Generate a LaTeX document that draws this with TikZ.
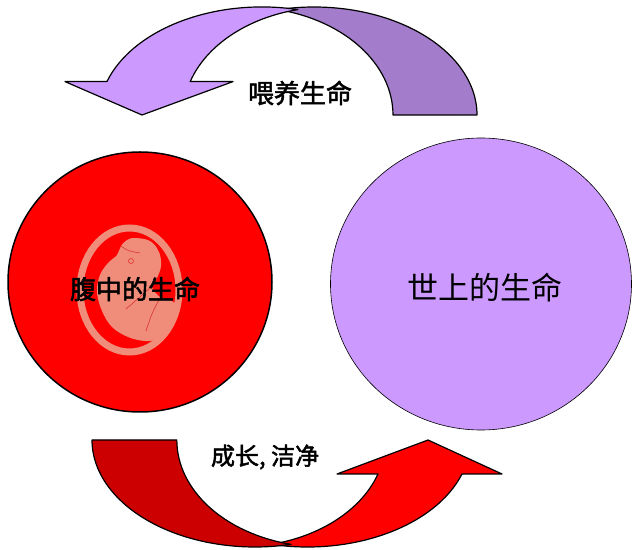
\documentclass[tikz,border=0pt]{standalone}
\usepackage{fontspec}
\newfontfamily\cjk{Noto Sans CJK SC}
\newfontfamily\cjkbold{Noto Sans CJK SC}[FakeBold=2]
\usetikzlibrary{positioning}
\definecolor{lilac}{RGB}{204,153,255}
\definecolor{lilacdark}{RGB}{164,124,204}
\definecolor{redfront}{RGB}{255,0,0}
\definecolor{redback}{RGB}{204,0,0}
\definecolor{salmon}{RGB}{240,140,122}
\tikzset{band/.style={draw=black,line width=1.2pt,line join=round}}

\begin{document}
\begin{tikzpicture}[x=1pt,y=1pt,
    word/.style={font=\cjkbold\fontsize{26}{26}\selectfont,inner sep=0pt}]
    \useasboundingbox (0,0) rectangle (632,549);
    \def\ry{108}
    % top arrow: back part, then front part with head
    \draw[band,fill=lilacdark] (477,434)
        arc[start angle=0,end angle=102.7,x radius=163,y radius=\ry]
        arc[start angle=77.35,end angle=0,x radius=147,y radius=\ry] -- cycle;
    \draw[band,fill=lilac] (297.8,539.4)
        arc[start angle=77.3,end angle=162,x radius=163,y radius=\ry]
        -- (65,467.4) -- (142,434) -- (233,467.4) -- (190.2,467.4)
        arc[start angle=162,end angle=102.65,x radius=147,y radius=\ry] -- cycle;
    % bottom arrow: red part behind, dark part in front
    \def\ry{107}
    \draw[band,fill=redfront] (378,75)
        arc[start angle=-18.53,end angle=-77.2,x radius=146.8,y radius=\ry]
        arc[start angle=-102.8,end angle=-18.53,x radius=163,y radius=\ry]
        -- (502,75) -- (428,109) -- (337,75) -- cycle;
    \draw[band,fill=redback] (92,109)
        arc[start angle=180,end angle=282.8,x radius=163,y radius=\ry]
        arc[start angle=257.2,end angle=180,x radius=146.8,y radius=\ry] -- cycle;
    % the two lives
    \draw[line width=1.5pt,fill=redfront] (140,267) ellipse[x radius=132,y radius=130];
    \draw[line width=0.6pt,fill=lilac] (481,265) ellipse[x radius=150.5,y radius=146];
    % fetus in the womb
    \draw[salmon,line width=7pt] (129.5,259) ellipse[x radius=49.5,y radius=62];
    \fill[salmon] plot[smooth cycle,tension=0.6] coordinates {(135,311) (150,308)
        (159,297) (161,283) (157,271) (152,262) (160,252) (172,248) (179,240)
        (172,229) (167,217) (158,210) (145,208) (128,212) (112,222) (102,238)
        (97,257) (100,274) (108,286) (117,294) (121,303) (127,309)};
    \draw[redback!70!salmon,line width=0.5pt] (131,288) circle[radius=2.5];
    \draw[redback!70!salmon,line width=0.5pt] (152,263) .. controls (140,252) .. (126,240);
    \draw[redback!70!salmon,line width=0.5pt] (160,251) .. controls (152,236) .. (146,218);
    \draw[redback!70!salmon,line width=0.5pt] (121,303) .. controls (128,298) .. (140,296);
    % labels
    \node[word] (feed) at (300,456) {喂养生命};
    \node[word] (womb) at (135,260) {腹中的生命};
    \node[word,font=\cjk\fontsize{31}{31}\selectfont] (world) at (485,261) {世上的生命};
    \node[word,font=\cjkbold\fontsize{24}{24}\selectfont] (grow) at (265,92) {成长, 洁净};
\end{tikzpicture}
\end{document}
